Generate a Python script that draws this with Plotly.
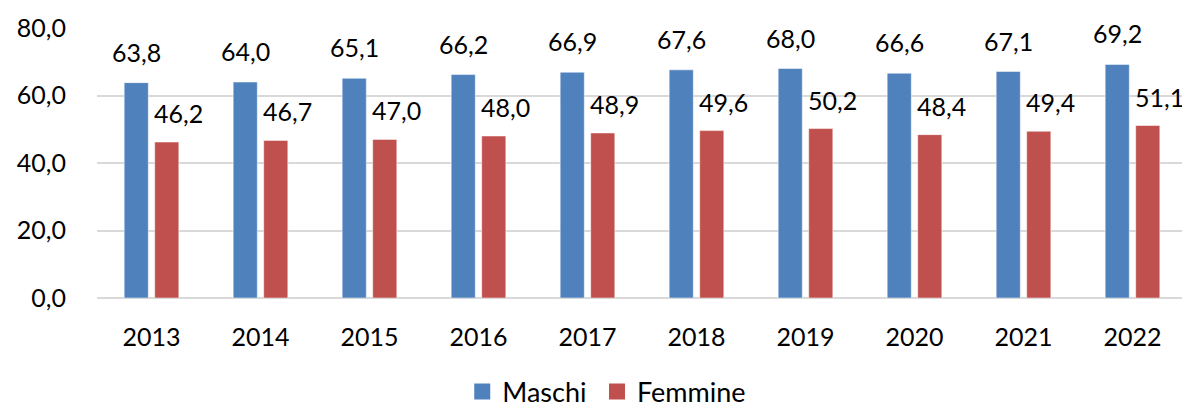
import plotly.graph_objects as go

years = ["2013", "2014", "2015", "2016", "2017", "2018", "2019", "2020", "2021", "2022"]
maschi = [63.8, 64.0, 65.1, 66.2, 66.9, 67.6, 68.0, 66.6, 67.1, 69.2]
femmine = [46.2, 46.7, 47.0, 48.0, 48.9, 49.6, 50.2, 48.4, 49.4, 51.1]
y_ticks = [0, 20, 40, 60, 80]
y_tick_labels = ["0,0", "20,0", "40,0", "60,0", "80,0"]

BLUE = "#4F81BD"
RED = "#C0504D"
FONT = "Lato"
FS = 25

def fmt(v):
    return f"{v:.1f}".replace(".", ",")

fig = go.Figure()
fig.add_trace(go.Bar(x=years, y=maschi, name="Maschi", marker_color=BLUE,
                     marker_line=dict(color="white", width=0.5), showlegend=False))
fig.add_trace(go.Bar(x=years, y=femmine, name="Femmine", marker_color=RED,
                     marker_line=dict(color="white", width=0.5), showlegend=False))
# legend entries (no visible points)
fig.add_trace(go.Scatter(x=years[:1], y=[None], mode="markers", name="Maschi",
                         legend="legend",
                         marker=dict(symbol="square", size=16, color=BLUE)))
fig.add_trace(go.Scatter(x=years[:1], y=[None], mode="markers", name="Femmine",
                         legend="legend2",
                         marker=dict(symbol="square", size=16, color=RED)))

ann = []
for i, (m, f) in enumerate(zip(maschi, femmine)):
    ann.append(dict(x=i, y=m, xref="x", yref="y", text=fmt(m), showarrow=False,
                    xanchor="center", yanchor="bottom", xshift=-15.5, yshift=14,
                    font=dict(family=FONT, size=FS, color="black")))
    ann.append(dict(x=i, y=f, xref="x", yref="y", text=fmt(f), showarrow=False,
                    xanchor="center", yanchor="bottom", xshift=27, yshift=12,
                    font=dict(family=FONT, size=FS, color="black")))

leg_common = dict(orientation="h", xref="container", xanchor="left",
                  yref="container", y=0.035, yanchor="middle",
                  font=dict(family=FONT, size=27), itemwidth=30,
                  bgcolor="rgba(0,0,0,0)")

# page body adds an 8px offset; figure is sized to fill the remaining window
fig.update_layout(
    width=1182, height=398,
    margin=dict(l=89, r=3, t=20, b=107.5, autoexpand=False),
    paper_bgcolor="white", plot_bgcolor="white",
    barmode="group", bargap=0.44, bargroupgap=0.21,
    font=dict(family=FONT, size=FS, color="black"),
    annotations=ann,
    legend=dict(x=0.3843, **leg_common),
    legend2=dict(x=0.4983, **leg_common),
)
fig.update_xaxes(type="category", categoryorder="array", categoryarray=years,
                 range=[-0.5, len(years) - 0.5], automargin=False,
                 showgrid=False, showline=False, zeroline=False,
                 ticks="", ticklabelstandoff=22, tickfont=dict(family=FONT, size=FS))
fig.update_yaxes(range=[0, 80], tickvals=y_ticks, ticktext=y_tick_labels,
                 automargin=False,
                 showgrid=True, gridcolor="#D9D9D9", gridwidth=1.5,
                 zeroline=True, zerolinecolor="#D9D9D9", zerolinewidth=1.5,
                 showline=False, ticks="", ticklabelstandoff=30,
                 tickfont=dict(family=FONT, size=FS))

fig.write_html("out.html")
